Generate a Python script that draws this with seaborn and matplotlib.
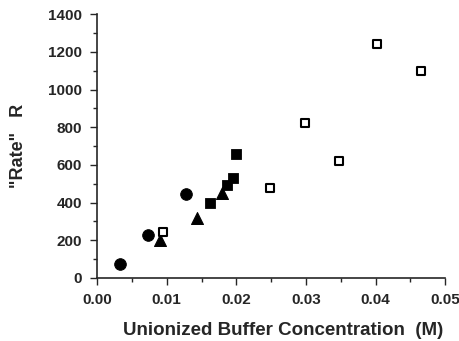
import matplotlib
matplotlib.use("Agg")
import matplotlib.pyplot as plt
import seaborn as sns
from matplotlib.ticker import MultipleLocator

# values
circle_x = [0.0033, 0.0073, 0.0128]
circle_y = [75, 226, 447]
tri_x = [0.0090, 0.0144, 0.0180]
tri_y = [201, 317, 449]
fsq_x = [0.0162, 0.0186, 0.0195, 0.0200]
fsq_y = [396, 493, 529, 658]
osq_x = [0.0094, 0.0248, 0.0299, 0.0348, 0.0402, 0.0465]
osq_y = [246, 476, 824, 621, 1240, 1100]

sns.set_style("ticks")
plt.rcParams['font.family'] = ['Liberation Sans', 'DejaVu Sans']
plt.rcParams['font.weight'] = 'bold'

fig = plt.figure(figsize=(4.6, 3.41), dpi=100)
ax = fig.add_axes([0.211, 0.185, 0.757, 0.773])

sns.scatterplot(x=circle_x, y=circle_y, marker='o', s=70, color='black',
                edgecolor='black', ax=ax)
sns.scatterplot(x=tri_x, y=tri_y, marker='^', s=75, color='black',
                edgecolor='black', ax=ax)
sns.scatterplot(x=fsq_x, y=fsq_y, marker='s', s=55, color='black',
                edgecolor='black', ax=ax)
sns.scatterplot(x=osq_x, y=osq_y, marker='s', s=32, facecolor='white',
                edgecolor='black', linewidth=1.5, ax=ax)

ax.set_xlim(0, 0.05)
ax.set_ylim(0, 1400)
ax.xaxis.set_major_locator(MultipleLocator(0.01))
ax.xaxis.set_minor_locator(MultipleLocator(0.005))
ax.yaxis.set_major_locator(MultipleLocator(200))
ax.yaxis.set_minor_locator(MultipleLocator(100))
ax.set_xticklabels([f"{v:.2f}" for v in ax.get_xticks()])
ax.tick_params(which='major', length=5, width=1, labelsize=11, pad=6)
ax.tick_params(which='minor', length=3, width=1)
for lab in ax.get_xticklabels() + ax.get_yticklabels():
    lab.set_fontweight('bold')

ax.set_xlabel("Unionized Buffer Concentration  (M)", fontsize=13.5,
              fontweight='bold')
ax.xaxis.set_label_coords(0.535, -0.168)
ax.set_ylabel('"Rate"   R', fontsize=13, fontweight='bold')
ax.yaxis.set_label_coords(-0.2, 0.5)
sns.despine(ax=ax)
ax.spines['left'].set_linewidth(1.2)
ax.spines['bottom'].set_linewidth(1.2)

fig.savefig("out.png", dpi=100)
